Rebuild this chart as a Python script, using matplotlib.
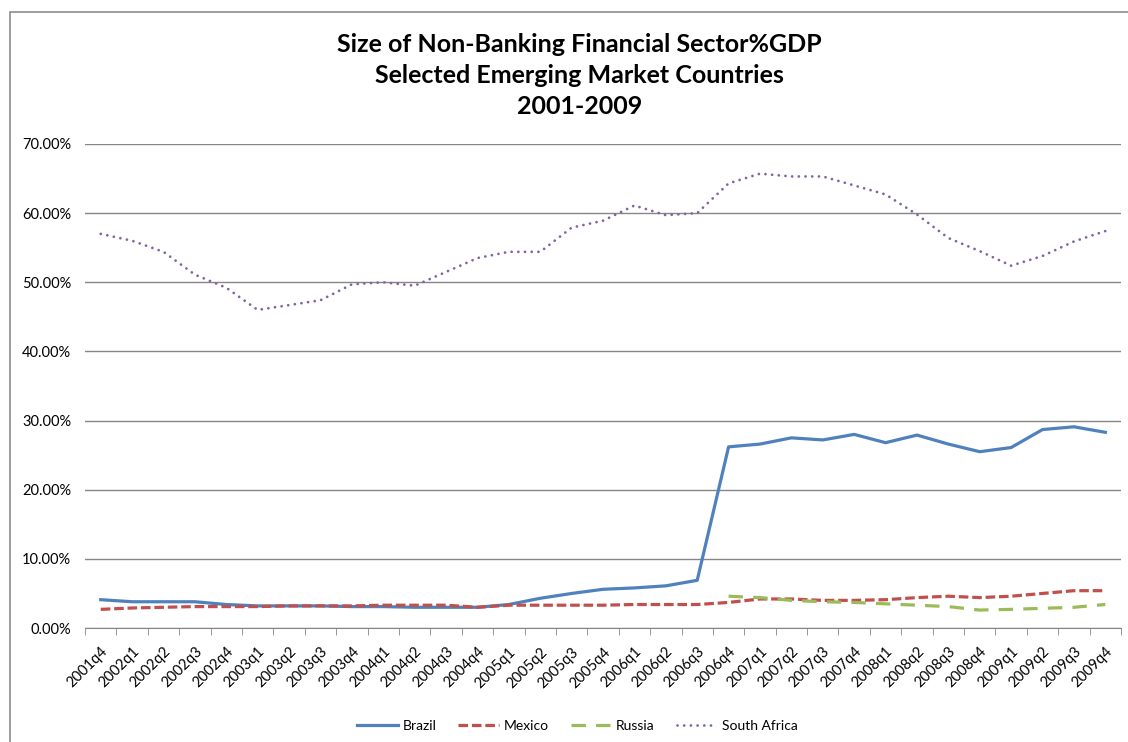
import matplotlib
matplotlib.use("Agg")
import matplotlib.pyplot as plt
from matplotlib.patches import Rectangle
from matplotlib.ticker import FuncFormatter, FixedLocator

quarters = ["2001q4"] + [f"{y}q{q}" for y in range(2002, 2010) for q in range(1, 5)]

brazil = [4.1, 3.8, 3.8, 3.8, 3.4, 3.2, 3.2, 3.2, 3.1, 3.1, 3.0, 3.0, 3.0, 3.4,
          4.3, 5.0, 5.6, 5.8, 6.1, 6.9, 26.2, 26.6, 27.5, 27.2, 28.0, 26.8,
          27.9, 26.6, 25.5, 26.1, 28.7, 29.1, 28.3]
mexico = [2.7, 2.9, 3.0, 3.1, 3.1, 3.1, 3.2, 3.2, 3.2, 3.3, 3.3, 3.3, 3.0, 3.3,
          3.3, 3.3, 3.3, 3.4, 3.4, 3.4, 3.7, 4.2, 4.2, 4.0, 4.0, 4.1, 4.4,
          4.6, 4.4, 4.6, 5.0, 5.4, 5.4]
# Russia only from 2006q4
russia_start = 20
russia = [4.6, 4.4, 4.0, 3.8, 3.7, 3.5, 3.3, 3.1, 2.6, 2.7, 2.85, 3.0, 3.4]
south_africa = [57.0, 56.0, 54.4, 51.1, 49.2, 46.0, 46.7, 47.4, 49.7, 50.0,
                49.5, 51.5, 53.5, 54.4, 54.4, 57.9, 58.9, 61.1, 59.7, 60.0,
                64.3, 65.7, 65.3, 65.3, 64.0, 62.7, 59.8, 56.4, 54.5, 52.4,
                53.8, 55.9, 57.4]

title_lines = ["Size of Non-Banking Financial Sector%GDP",
               "Selected Emerging Market Countries",
               "2001-2009"]

plt.rcParams['font.family'] = ['Lato', 'DejaVu Sans']

fig = plt.figure(figsize=(11.28, 7.42), dpi=100)
ax = fig.add_axes([0.0754, 0.1536, 0.9184, 0.6524])

# outer chart border (only top and left visible in the picture)
fig.patches.append(Rectangle((10 / 1128, -0.1), 1.2, 1 - 12 / 742 + 0.1,
                             transform=fig.transFigure, fill=False,
                             edgecolor="#8c8c8c", linewidth=1.2))

x = list(range(len(quarters)))
ax.plot(x, brazil, color="#4F81BD", lw=2.3, label="Brazil", solid_joinstyle="round")
ax.plot(x, mexico, color="#C0504D", lw=2.3, dashes=(3, 1.2), label="Mexico")
ax.plot(x[russia_start:], russia, color="#9BBB59", lw=2.3, dashes=(4.5, 3.2), label="Russia")
ax.plot(x, south_africa, color="#8064A2", lw=2.0, dashes=(0.01, 2.4),
        dash_capstyle="round", label="South Africa")

ax.set_xlim(-0.5, len(quarters) - 0.5)
ax.set_ylim(0, 70)
ax.set_yticks(range(0, 71, 10))
ax.yaxis.set_major_formatter(FuncFormatter(lambda v, p: f"{v:.2f}%"))
ax.yaxis.grid(True, color="#868686", lw=1)
ax.set_axisbelow(True)
ax.tick_params(axis="y", length=0, labelsize=10.5, pad=10)

ax.set_xticks(x)
ax.set_xticklabels(quarters, rotation=45, ha="right", rotation_mode="anchor", fontsize=10.5)
ax.xaxis.set_minor_locator(FixedLocator([i - 0.5 for i in range(len(quarters) + 1)]))
ax.tick_params(axis="x", which="major", length=0, pad=12)
ax.tick_params(axis="x", which="minor", length=5, color="#868686", direction="out")

for s in ["top", "right", "left"]:
    ax.spines[s].set_visible(False)
ax.spines["bottom"].set_color("#868686")

for k, line in enumerate(title_lines):
    fig.text(0.514, 1 - (44 + 31.5 * k) / 742, line, ha="center", va="center",
             fontsize=18, fontweight="bold",
             family=["Liberation Sans Narrow", "Lato", "DejaVu Sans"])

fig.legend(loc="center", bbox_to_anchor=(0.512, 1 - 726 / 742), ncol=4,
           frameon=False, fontsize=10, handlelength=2.9, columnspacing=1.6,
           handletextpad=0.35)

fig.savefig("out.png", dpi=100)
